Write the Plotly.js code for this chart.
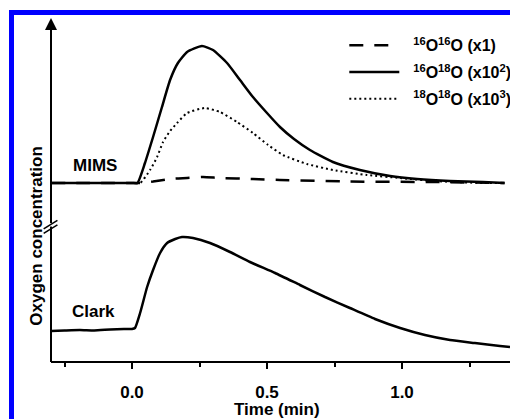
<!DOCTYPE html>
<html>
<head>
<meta charset="utf-8">
<script src="https://cdn.plot.ly/plotly-3.0.1.min.js"></script>
<style>
  html, body { margin: 0; padding: 0; background: #fff; }
  #chart { width: 510px; height: 419px; }
  #frame { position: absolute; left: 9px; top: 10px; width: 501px; height: 409px;
           border-left: 5px solid #0000ff; border-top: 5px solid #0000ff;
           box-sizing: border-box; pointer-events: none; }
</style>
</head>
<body>
<div id="chart"></div>
<div id="frame"></div>
<script>
// ---- data (time in min, concentration in arbitrary units) ----
const t_16O16O = [-0.30, -0.20, -0.10, 0.0, 0.03, 0.078, 0.141, 0.204, 0.263, 0.326, 0.448, 0.548, 0.807, 1.104, 1.38];
const y_16O16O = [178, 178, 178, 178, 178, 179.5, 182, 183, 184, 183, 182, 181, 179.5, 179, 178];

const t_16O18O = [-0.30, -0.20, -0.10, 0.0, 0.02, 0.048, 0.078, 0.111, 0.141, 0.170, 0.204, 0.259, 0.300, 0.352, 0.400, 0.448, 0.500, 0.548, 0.600, 0.659, 0.744, 0.844, 0.956, 1.056, 1.178, 1.30, 1.38];
const y_16O18O = [178, 178, 178, 178, 178, 198, 224, 254, 281, 298, 309, 315, 311, 298, 281, 264, 248, 234, 222, 211, 199, 191, 185, 182, 180, 179, 178];

const t_18O18O = [-0.30, -0.20, -0.10, 0.0, 0.03, 0.067, 0.093, 0.115, 0.141, 0.167, 0.204, 0.270, 0.326, 0.389, 0.448, 0.504, 0.559, 0.648, 0.744, 0.870, 0.993, 1.115, 1.30, 1.38];
const y_18O18O = [178, 178, 178, 178, 178, 191, 204, 219, 230, 238, 248, 253, 249, 239, 228, 216, 206, 197, 191, 186, 183, 180, 178, 178];

const t_clark = [-0.30, -0.25, -0.193, -0.14, -0.081, -0.03, 0.0, 0.011, 0.030, 0.056, 0.078, 0.104, 0.130, 0.160, 0.185, 0.226, 0.289, 0.363, 0.437, 0.530, 0.622, 0.715, 0.807, 0.900, 0.993, 1.085, 1.178, 1.270, 1.363, 1.40];
const y_clark = [30, 30.5, 31, 30.5, 31.5, 32, 32, 33, 48, 74, 91, 108, 118, 122, 124, 123, 118, 109, 99, 88, 76, 64, 53, 42, 33, 26, 21, 18, 15, 14];

const seriesNames = ['&nbsp;&nbsp;<sup>16</sup>O<sup>16</sup>O (x1)', '&nbsp;&nbsp;<sup>16</sup>O<sup>18</sup>O (x10<sup>2</sup>)', '&nbsp;&nbsp;<sup>18</sup>O<sup>18</sup>O (x10<sup>3</sup>)'];
const tickVals = [0, 0.5, 1.0];
const tickText = ['0.0', '0.5', '1.0'];
const minorTickVals = [-0.25, 0.25, 0.75, 1.25];

const FONT = 'Liberation Sans, Arial, Helvetica, sans-serif';

const traces = [
  { x: t_16O16O, y: y_16O16O, name: seriesNames[0], mode: 'lines', legendgroup: 'a',
    line: { color: '#000', width: 2.5, dash: '14px,11px', shape: 'spline', smoothing: 0.5 } },
  { x: t_16O18O, y: y_16O18O, name: seriesNames[1], mode: 'lines', legendgroup: 'b',
    line: { color: '#000', width: 2.5, shape: 'spline', smoothing: 0.5 } },
  { x: t_18O18O, y: y_18O18O, name: seriesNames[2], mode: 'lines', legendgroup: 'c',
    line: { color: '#000', width: 2, dash: '2px,3px', shape: 'spline', smoothing: 0.5 } },
  { x: t_clark, y: y_clark, name: 'Clark', mode: 'lines', showlegend: false,
    line: { color: '#000', width: 2.5, shape: 'spline', smoothing: 0.5 } }
];

const layout = {
  width: 510, height: 419,
  margin: { l: 51, r: 0, t: 18, b: 58, autoexpand: false },
  paper_bgcolor: '#fff', plot_bgcolor: '#fff',
  font: { family: FONT, color: '#000' },
  showlegend: true,
  legend: { x: 0.639, y: 0.97, xanchor: 'left', yanchor: 'top', bgcolor: 'rgba(0,0,0,0)',
            tracegroupgap: 3,
            font: { family: FONT, size: 16, weight: 700, color: '#000' }, itemwidth: 50 },
  xaxis: {
    range: [-0.3, 1.4], tickmode: 'array', tickvals: tickVals, ticktext: tickText,
    ticks: 'outside', ticklen: 6, tickwidth: 2, tickcolor: '#000', ticklabelstandoff: 9,
    showline: true, linewidth: 2, linecolor: '#000', showgrid: false, zeroline: false,
    tickfont: { family: FONT, size: 17, weight: 700, color: '#000' },
    minor: { tickmode: 'array', tickvals: minorTickVals, ticks: 'outside', ticklen: 4, tickwidth: 2, tickcolor: '#000', showgrid: false }
  },
  yaxis: {
    range: [0, 343], showline: false, showticklabels: false, ticks: '', showgrid: false, zeroline: false
  },
  shapes: [
    { type: 'line', xref: 'paper', yref: 'paper', x0: 0, x1: 0, y0: -0.003, y1: 0.97, line: { color: '#000', width: 2 } },
    { type: 'line', xref: 'paper', yref: 'paper', x0: 0, x1: 0, y0: 0.392, y1: 0.402, line: { color: '#fff', width: 4 } },
    { type: 'line', xref: 'paper', yref: 'paper', x0: -0.016, x1: 0.014, y0: 0.385, y1: 0.410, line: { color: '#000', width: 1.5 } },
    { type: 'line', xref: 'paper', yref: 'paper', x0: -0.016, x1: 0.014, y0: 0.372, y1: 0.397, line: { color: '#000', width: 1.5 } }
  ],
  annotations: [
    { xref: 'paper', yref: 'paper', x: 0, y: 1, ax: 0, ay: 20, axref: 'pixel', ayref: 'pixel',
      text: '', showarrow: true, arrowhead: 2, arrowsize: 1.2, arrowwidth: 2, arrowcolor: '#000', standoff: 0 },
    { xref: 'x', yref: 'y', x: -0.137, y: 196, text: 'MIMS', showarrow: false,
      font: { family: FONT, size: 17, weight: 700, color: '#000' } },
    { xref: 'x', yref: 'y', x: -0.141, y: 50, text: 'Clark', showarrow: false,
      font: { family: FONT, size: 17, weight: 700, color: '#000' } },
    { xref: 'paper', yref: 'paper', x: 0.492, y: -0.140, yanchor: 'middle', text: 'Time (min)',
      showarrow: false, font: { family: FONT, size: 17, weight: 700, color: '#000' } },
    { xref: 'paper', yref: 'paper', x: -0.0566, y: 0.364, text: 'Oxygen concentration', textangle: -90,
      showarrow: false, font: { family: FONT, size: 17, weight: 700, color: '#000' } }
  ]
};

Plotly.newPlot('chart', traces, layout, { staticPlot: true, displayModeBar: false });
</script>
</body>
</html>
